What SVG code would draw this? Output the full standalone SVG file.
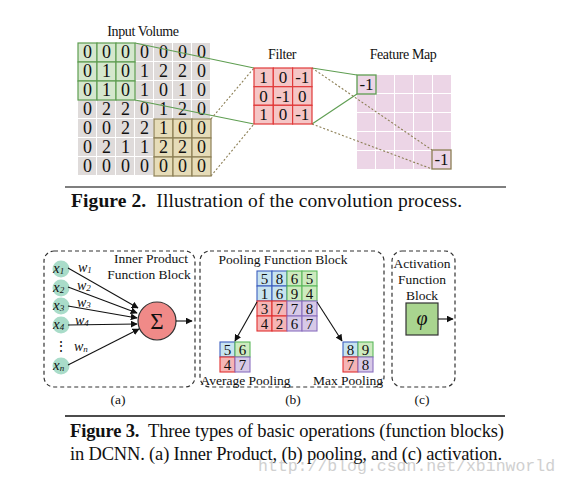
<svg xmlns="http://www.w3.org/2000/svg" width="567" height="485" viewBox="0 0 567 485">
<defs>
<style>
text{font-family:"Liberation Serif","Times New Roman",serif;fill:#111}
.num{font-size:18px;text-anchor:middle}
.fn{font-size:17px;text-anchor:middle}
.pn{font-size:15px;text-anchor:middle}
.lbl{font-size:14px;text-anchor:middle;letter-spacing:-0.4px}
.sm{font-size:13.5px;text-anchor:middle}
.it{font-style:italic}
.cap{font-size:18.5px}
.g{fill:#dfdbda}
.gc{fill:#d5e7cd;stroke:#5f9e52;stroke-width:1.2}
.tc{fill:#e6dcb8;stroke:#8c7f55;stroke-width:1.2}
.fc{fill:#f5c6c6;stroke:#e03a3a;stroke-width:1.2}
.pk{fill:#ecd5e6}
.gl{stroke:#5f9e52;stroke-width:1.2;fill:none}
.dl{stroke:#8c7f55;stroke-width:1.1;stroke-dasharray:2 2;fill:none}
.bl{fill:#c7e3ef;stroke:#3c5fbf;stroke-width:1.1}
.gr{fill:#cdeabf;stroke:#5cb85c;stroke-width:1.1}
.rd{fill:#f5b5b5;stroke:#e03030;stroke-width:1.1}
.pu{fill:#d7c9e7;stroke:#8a6fbf;stroke-width:1.1}
.box{fill:none;stroke:#333;stroke-width:1.2;stroke-dasharray:4 3}
.ar{stroke:#111;stroke-width:1.1;fill:none;marker-end:url(#ah)}
.nd{fill:#a9dcc9}
</style>
<marker id="ah" viewBox="0 0 10 10" refX="9" refY="5" markerWidth="7" markerHeight="7" orient="auto" markerUnits="userSpaceOnUse"><path d="M0,0 L10,5 L0,10 z" fill="#111"/></marker>
</defs>
<rect width="567" height="485" fill="#fff"/>

<!-- Figure 2 -->
<g id="input-volume">
<text class="lbl" x="143" y="36">Input Volume</text>
<g>
<rect class="g" x="78" y="43" width="18" height="18"/><rect class="g" x="97" y="43" width="18" height="18"/><rect class="g" x="116" y="43" width="18" height="18"/><rect class="g" x="135" y="43" width="18" height="18"/><rect class="g" x="154" y="43" width="18" height="18"/><rect class="g" x="173" y="43" width="18" height="18"/><rect class="g" x="192" y="43" width="18" height="18"/>
<rect class="g" x="78" y="62" width="18" height="18"/><rect class="g" x="97" y="62" width="18" height="18"/><rect class="g" x="116" y="62" width="18" height="18"/><rect class="g" x="135" y="62" width="18" height="18"/><rect class="g" x="154" y="62" width="18" height="18"/><rect class="g" x="173" y="62" width="18" height="18"/><rect class="g" x="192" y="62" width="18" height="18"/>
<rect class="g" x="78" y="81" width="18" height="18"/><rect class="g" x="97" y="81" width="18" height="18"/><rect class="g" x="116" y="81" width="18" height="18"/><rect class="g" x="135" y="81" width="18" height="18"/><rect class="g" x="154" y="81" width="18" height="18"/><rect class="g" x="173" y="81" width="18" height="18"/><rect class="g" x="192" y="81" width="18" height="18"/>
<rect class="g" x="78" y="100" width="18" height="18"/><rect class="g" x="97" y="100" width="18" height="18"/><rect class="g" x="116" y="100" width="18" height="18"/><rect class="g" x="135" y="100" width="18" height="18"/><rect class="g" x="154" y="100" width="18" height="18"/><rect class="g" x="173" y="100" width="18" height="18"/><rect class="g" x="192" y="100" width="18" height="18"/>
<rect class="g" x="78" y="119" width="18" height="18"/><rect class="g" x="97" y="119" width="18" height="18"/><rect class="g" x="116" y="119" width="18" height="18"/><rect class="g" x="135" y="119" width="18" height="18"/><rect class="g" x="154" y="119" width="18" height="18"/><rect class="g" x="173" y="119" width="18" height="18"/><rect class="g" x="192" y="119" width="18" height="18"/>
<rect class="g" x="78" y="138" width="18" height="18"/><rect class="g" x="97" y="138" width="18" height="18"/><rect class="g" x="116" y="138" width="18" height="18"/><rect class="g" x="135" y="138" width="18" height="18"/><rect class="g" x="154" y="138" width="18" height="18"/><rect class="g" x="173" y="138" width="18" height="18"/><rect class="g" x="192" y="138" width="18" height="18"/>
<rect class="g" x="78" y="157" width="18" height="18"/><rect class="g" x="97" y="157" width="18" height="18"/><rect class="g" x="116" y="157" width="18" height="18"/><rect class="g" x="135" y="157" width="18" height="18"/><rect class="g" x="154" y="157" width="18" height="18"/><rect class="g" x="173" y="157" width="18" height="18"/><rect class="g" x="192" y="157" width="18" height="18"/>
</g>
<g>
<rect class="gc" x="78" y="43" width="19" height="19"/><rect class="gc" x="97" y="43" width="19" height="19"/><rect class="gc" x="116" y="43" width="19" height="19"/>
<rect class="gc" x="78" y="62" width="19" height="19"/><rect class="gc" x="97" y="62" width="19" height="19"/><rect class="gc" x="116" y="62" width="19" height="19"/>
<rect class="gc" x="78" y="81" width="19" height="19"/><rect class="gc" x="97" y="81" width="19" height="19"/><rect class="gc" x="116" y="81" width="19" height="19"/>
</g>
<g>
<rect class="tc" x="154" y="119" width="19" height="19"/><rect class="tc" x="173" y="119" width="19" height="19"/><rect class="tc" x="192" y="119" width="19" height="19"/>
<rect class="tc" x="154" y="138" width="19" height="19"/><rect class="tc" x="173" y="138" width="19" height="19"/><rect class="tc" x="192" y="138" width="19" height="19"/>
<rect class="tc" x="154" y="157" width="19" height="19"/><rect class="tc" x="173" y="157" width="19" height="19"/><rect class="tc" x="192" y="157" width="19" height="19"/>
</g>
<g>
<text class="num" x="87.5" y="58">0</text><text class="num" x="106.5" y="58">0</text><text class="num" x="125.5" y="58">0</text><text class="num" x="144.5" y="58">0</text><text class="num" x="163.5" y="58">0</text><text class="num" x="182.5" y="58">0</text><text class="num" x="201.5" y="58">0</text>
<text class="num" x="87.5" y="77">0</text><text class="num" x="106.5" y="77">1</text><text class="num" x="125.5" y="77">0</text><text class="num" x="144.5" y="77">1</text><text class="num" x="163.5" y="77">2</text><text class="num" x="182.5" y="77">2</text><text class="num" x="201.5" y="77">0</text>
<text class="num" x="87.5" y="96">0</text><text class="num" x="106.5" y="96">1</text><text class="num" x="125.5" y="96">0</text><text class="num" x="144.5" y="96">1</text><text class="num" x="163.5" y="96">0</text><text class="num" x="182.5" y="96">1</text><text class="num" x="201.5" y="96">0</text>
<text class="num" x="87.5" y="115">0</text><text class="num" x="106.5" y="115">2</text><text class="num" x="125.5" y="115">2</text><text class="num" x="144.5" y="115">0</text><text class="num" x="163.5" y="115">1</text><text class="num" x="182.5" y="115">2</text><text class="num" x="201.5" y="115">0</text>
<text class="num" x="87.5" y="134">0</text><text class="num" x="106.5" y="134">0</text><text class="num" x="125.5" y="134">2</text><text class="num" x="144.5" y="134">2</text><text class="num" x="163.5" y="134">1</text><text class="num" x="182.5" y="134">0</text><text class="num" x="201.5" y="134">0</text>
<text class="num" x="87.5" y="153">0</text><text class="num" x="106.5" y="153">2</text><text class="num" x="125.5" y="153">1</text><text class="num" x="144.5" y="153">1</text><text class="num" x="163.5" y="153">2</text><text class="num" x="182.5" y="153">2</text><text class="num" x="201.5" y="153">0</text>
<text class="num" x="87.5" y="172">0</text><text class="num" x="106.5" y="172">0</text><text class="num" x="125.5" y="172">0</text><text class="num" x="144.5" y="172">0</text><text class="num" x="163.5" y="172">0</text><text class="num" x="182.5" y="172">0</text><text class="num" x="201.5" y="172">0</text>
</g>
</g>

<g id="feature-map">
<text class="lbl" x="403" y="59">Feature Map</text>
<rect class="pk" x="357" y="75" width="18" height="18"/><rect class="pk" x="376" y="75" width="18" height="18"/><rect class="pk" x="395" y="75" width="18" height="18"/><rect class="pk" x="414" y="75" width="18" height="18"/><rect class="pk" x="433" y="75" width="18" height="18"/>
<rect class="pk" x="357" y="94" width="18" height="18"/><rect class="pk" x="376" y="94" width="18" height="18"/><rect class="pk" x="395" y="94" width="18" height="18"/><rect class="pk" x="414" y="94" width="18" height="18"/><rect class="pk" x="433" y="94" width="18" height="18"/>
<rect class="pk" x="357" y="113" width="18" height="18"/><rect class="pk" x="376" y="113" width="18" height="18"/><rect class="pk" x="395" y="113" width="18" height="18"/><rect class="pk" x="414" y="113" width="18" height="18"/><rect class="pk" x="433" y="113" width="18" height="18"/>
<rect class="pk" x="357" y="132" width="18" height="18"/><rect class="pk" x="376" y="132" width="18" height="18"/><rect class="pk" x="395" y="132" width="18" height="18"/><rect class="pk" x="414" y="132" width="18" height="18"/><rect class="pk" x="433" y="132" width="18" height="18"/>
<rect class="pk" x="357" y="151" width="18" height="18"/><rect class="pk" x="376" y="151" width="18" height="18"/><rect class="pk" x="395" y="151" width="18" height="18"/><rect class="pk" x="414" y="151" width="18" height="18"/><rect class="pk" x="433" y="151" width="18" height="18"/>
<rect x="357" y="75" width="19" height="19" fill="#ecd5e6" stroke="#5f9e52" stroke-width="1.3"/>
<text class="fn" x="366.5" y="90">-1</text>
<rect x="432" y="150" width="19" height="19" fill="#ecd5e6" stroke="#8c7f55" stroke-width="1.3"/>
<text class="fn" x="441.5" y="165">-1</text>
</g>

<g id="connectors-fig2">
<line class="gl" x1="135" y1="43" x2="254" y2="68"/>
<line class="gl" x1="135" y1="100" x2="254" y2="124"/>
<line class="gl" x1="312" y1="68" x2="357" y2="75"/>
<line class="gl" x1="312" y1="124" x2="357" y2="94"/>
<line class="dl" x1="211" y1="119" x2="254" y2="68"/>
<line class="dl" x1="211" y1="176" x2="254" y2="124"/>
<line class="dl" x1="312" y1="68" x2="432" y2="150"/>
<line class="dl" x1="312" y1="124" x2="432" y2="169"/>
</g>

<g id="filter">
<text class="lbl" x="282" y="59">Filter</text>
<rect class="fc" x="254" y="68" width="19.3" height="18.7"/><rect class="fc" x="273.3" y="68" width="19.3" height="18.7"/><rect class="fc" x="292.6" y="68" width="19.4" height="18.7"/>
<rect class="fc" x="254" y="86.7" width="19.3" height="18.6"/><rect class="fc" x="273.3" y="86.7" width="19.3" height="18.6"/><rect class="fc" x="292.6" y="86.7" width="19.4" height="18.6"/>
<rect class="fc" x="254" y="105.3" width="19.3" height="18.7"/><rect class="fc" x="273.3" y="105.3" width="19.3" height="18.7"/><rect class="fc" x="292.6" y="105.3" width="19.4" height="18.7"/>
<text class="fn" x="263.6" y="83">1</text><text class="fn" x="283" y="83">0</text><text class="fn" x="302.3" y="83">-1</text>
<text class="fn" x="263.6" y="101.5">0</text><text class="fn" x="283" y="101.5">-1</text><text class="fn" x="302.3" y="101.5">0</text>
<text class="fn" x="263.6" y="120">1</text><text class="fn" x="283" y="120">0</text><text class="fn" x="302.3" y="120">-1</text>
</g>

<line x1="65" y1="187" x2="506" y2="187" stroke="#555" stroke-width="1.6"/>
<text x="71" y="207" font-size="19.5" textLength="391" lengthAdjust="spacing" xml:space="preserve"><tspan font-weight="bold">Figure 2.</tspan>  Illustration of the convolution process.</text>

<!-- Figure 3 (a) -->
<g id="inner-product-block">
<rect class="box" x="44" y="251" width="151" height="136" rx="10"/>
<text class="sm" x="151" y="263">Inner Product</text>
<text class="sm" x="149" y="279">Function Block</text>
<text class="sm" x="118" y="404">(a)</text>
</g>
<g id="input-nodes">
<circle class="nd" cx="61" cy="269" r="8.5"/><circle class="nd" cx="61" cy="288" r="8.5"/><circle class="nd" cx="61" cy="306" r="8.5"/><circle class="nd" cx="61" cy="325" r="8.5"/><circle class="nd" cx="61" cy="366" r="8.5"/>
<text class="it" font-size="15" x="53" y="273">x<tspan font-size="9" dy="1">1</tspan></text>
<text class="it" font-size="15" x="53" y="292">x<tspan font-size="9" dy="1">2</tspan></text>
<text class="it" font-size="15" x="53" y="310">x<tspan font-size="9" dy="1">3</tspan></text>
<text class="it" font-size="15" x="53" y="329">x<tspan font-size="9" dy="1">4</tspan></text>
<text class="it" font-size="15" x="53" y="370">x<tspan font-size="9" dy="1">n</tspan></text>
<text font-size="14" x="61" y="351" text-anchor="middle">⋮</text>
<text class="it" font-size="14" x="78" y="272">w<tspan font-size="9" dy="1">1</tspan></text>
<text class="it" font-size="14" x="77" y="290">w<tspan font-size="9" dy="1">2</tspan></text>
<text class="it" font-size="14" x="77" y="307">w<tspan font-size="9" dy="1">3</tspan></text>
<text class="it" font-size="14" x="75" y="325">w<tspan font-size="9" dy="1">4</tspan></text>
<text class="it" font-size="14" x="74" y="351">w<tspan font-size="9" dy="1">n</tspan></text>
</g>
<g id="sum-node">
<circle cx="157" cy="321" r="19" fill="#f08a88" stroke="#333" stroke-width="1.2"/>
<text x="157" y="329" font-size="23" text-anchor="middle">Σ</text>
</g>

<!-- (b) -->
<g id="pooling-block">
<rect class="box" x="200" y="251" width="184" height="136" rx="10"/>
<text class="sm" x="283" y="264">Pooling Function Block</text>
<text class="sm" x="245.5" y="384.5">Average Pooling</text>
<text class="sm" x="348" y="384.5">Max Pooling</text>
<text class="sm" x="293" y="404">(b)</text>
</g>
<g id="pool-input">
<rect class="bl" x="257" y="271" width="15" height="15"/><rect class="bl" x="272" y="271" width="15" height="15"/><rect class="gr" x="287" y="271" width="15" height="15"/><rect class="gr" x="302" y="271" width="15" height="15"/>
<rect class="bl" x="257" y="286" width="15" height="15"/><rect class="bl" x="272" y="286" width="15" height="15"/><rect class="gr" x="287" y="286" width="15" height="15"/><rect class="gr" x="302" y="286" width="15" height="15"/>
<rect class="rd" x="257" y="301" width="15" height="15"/><rect class="rd" x="272" y="301" width="15" height="15"/><rect class="pu" x="287" y="301" width="15" height="15"/><rect class="pu" x="302" y="301" width="15" height="15"/>
<rect class="rd" x="257" y="316" width="15" height="15"/><rect class="rd" x="272" y="316" width="15" height="15"/><rect class="pu" x="287" y="316" width="15" height="15"/><rect class="pu" x="302" y="316" width="15" height="15"/>
<text class="pn" x="264.5" y="284">5</text><text class="pn" x="279.5" y="284">8</text><text class="pn" x="294.5" y="284">6</text><text class="pn" x="309.5" y="284">5</text>
<text class="pn" x="264.5" y="299">1</text><text class="pn" x="279.5" y="299">6</text><text class="pn" x="294.5" y="299">9</text><text class="pn" x="309.5" y="299">4</text>
<text class="pn" x="264.5" y="314">3</text><text class="pn" x="279.5" y="314">7</text><text class="pn" x="294.5" y="314">7</text><text class="pn" x="309.5" y="314">8</text>
<text class="pn" x="264.5" y="329">4</text><text class="pn" x="279.5" y="329">2</text><text class="pn" x="294.5" y="329">6</text><text class="pn" x="309.5" y="329">7</text>
</g>
<g id="avg-pool">
<rect class="bl" x="220" y="342" width="15" height="15"/><rect class="gr" x="235" y="342" width="15" height="15"/>
<rect class="rd" x="220" y="357" width="15" height="15"/><rect class="pu" x="235" y="357" width="15" height="15"/>
<text class="pn" x="227.5" y="355">5</text><text class="pn" x="242.5" y="355">6</text>
<text class="pn" x="227.5" y="370">4</text><text class="pn" x="242.5" y="370">7</text>
</g>
<g id="max-pool">
<rect class="bl" x="343" y="342" width="15" height="15"/><rect class="gr" x="358" y="342" width="15" height="15"/>
<rect class="rd" x="343" y="357" width="15" height="15"/><rect class="pu" x="358" y="357" width="15" height="15"/>
<text class="pn" x="350.5" y="355">8</text><text class="pn" x="365.5" y="355">9</text>
<text class="pn" x="350.5" y="370">7</text><text class="pn" x="365.5" y="370">8</text>
</g>

<!-- (c) -->
<g id="activation-block">
<rect class="box" x="392" y="251" width="63" height="136" rx="10"/>
<text class="sm" x="422" y="268">Activation</text>
<text class="sm" x="422" y="284">Function</text>
<text class="sm" x="422" y="300">Block</text>
<text class="sm" x="422" y="404">(c)</text>
</g>
<g id="activation-node">
<rect x="406" y="303" width="32" height="32" fill="#a9d58f" stroke="#333" stroke-width="1.2"/>
<text class="it" x="422" y="325" font-size="20" text-anchor="middle">φ</text>
</g>

<g id="connectors-fig3">
<line class="ar" x1="68" y1="268" x2="138" y2="308"/>
<line class="ar" x1="68" y1="287" x2="137" y2="313"/>
<line class="ar" x1="68" y1="306" x2="137" y2="318"/>
<line class="ar" x1="68" y1="325" x2="137" y2="324"/>
<line class="ar" x1="68" y1="365" x2="139" y2="329"/>
<line class="ar" x1="176" y1="321" x2="192" y2="321"/>
<line class="ar" x1="257" y1="302" x2="235" y2="341"/>
<line class="ar" x1="317" y1="302" x2="342" y2="341"/>
<line class="ar" x1="438" y1="319" x2="453" y2="319"/>
</g>

<line x1="65" y1="416" x2="505" y2="416" stroke="#111" stroke-width="1.4"/>
<text x="258" y="471" font-size="16.5" style="fill:#d0d0d0;font-family:'Liberation Mono','Courier New',monospace">http://blog.csdn.net/xbinworld</text>
<text class="cap" x="70" y="437" textLength="434" lengthAdjust="spacing" xml:space="preserve"><tspan font-weight="bold">Figure 3.</tspan>  Three types of basic operations (function blocks)</text>
<text class="cap" x="70" y="460" textLength="432" lengthAdjust="spacing">in DCNN. (a) Inner Product, (b) pooling, and (c) activation.</text>
</svg>
